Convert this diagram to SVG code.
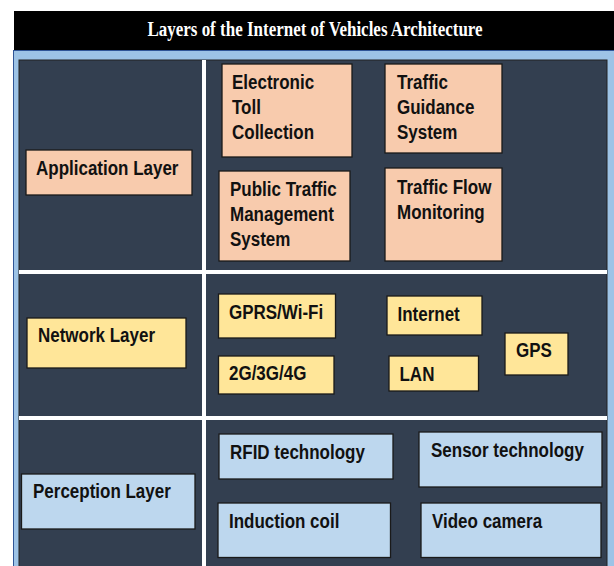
<svg xmlns="http://www.w3.org/2000/svg" width="614" height="566" viewBox="0 0 614 566">
<style>
.t{font-family:"Liberation Sans",Arial,sans-serif;font-weight:bold;font-size:17px;fill:#111}
.title{font-family:"Liberation Serif","Times New Roman",serif;font-weight:bold;font-size:17px;fill:#fff;text-anchor:middle}
.app{fill:#F8CBAD;stroke:#1a1a1a;stroke-width:1.3}
.net{fill:#FFE699;stroke:#1a1a1a;stroke-width:1.3}
.per{fill:#BDD7EE;stroke:#1a1a1a;stroke-width:1.3}
.div{fill:#fff}
</style>
<rect x="0" y="0" width="614" height="566" fill="#fff"/>
<g id="title">
<rect x="14" y="11" width="600" height="39" fill="#000"/>
<text class="title" transform="translate(315,36) scale(1,1.18)">Layers of the Internet of Vehicles Architecture</text>
</g>
<g id="frame">
<rect x="13.5" y="50.5" width="602" height="520" fill="#9DC3E6" stroke="#2F5597" stroke-width="1"/>
<rect x="19" y="60" width="588" height="510" fill="#333F50" stroke="#222" stroke-width="1"/>
</g>
<g id="dividers">
<rect class="div" x="202" y="60" width="4" height="506"/>
<rect class="div" x="19" y="270" width="588" height="4"/>
<rect class="div" x="19" y="416" width="588" height="4"/>
</g>
<g id="connectors"></g>
<g id="application-layer">
<rect class="app" x="26" y="150" width="166" height="45"/>
<text class="t" transform="translate(36,175) scale(1,1.15)">Application Layer</text>
</g>
<g id="electronic-toll">
<rect class="app" x="222" y="64" width="130" height="93"/>
<text class="t" transform="translate(232,89) scale(1,1.15)"><tspan x="0" y="0">Electronic</tspan><tspan x="0" y="21.7">Toll</tspan><tspan x="0" y="43.4">Collection</tspan></text>
</g>
<g id="traffic-guidance">
<rect class="app" x="385" y="64" width="117" height="89"/>
<text class="t" transform="translate(397,89) scale(1,1.15)"><tspan x="0" y="0">Traffic</tspan><tspan x="0" y="21.7">Guidance</tspan><tspan x="0" y="43.4">System</tspan></text>
</g>
<g id="public-traffic">
<rect class="app" x="219" y="171" width="131" height="90"/>
<text class="t" transform="translate(230,196) scale(1,1.15)"><tspan x="0" y="0">Public Traffic</tspan><tspan x="0" y="21.7">Management</tspan><tspan x="0" y="43.4">System</tspan></text>
</g>
<g id="traffic-flow">
<rect class="app" x="385" y="168" width="117" height="93"/>
<text class="t" transform="translate(397,194) scale(1,1.15)"><tspan x="0" y="0">Traffic Flow</tspan><tspan x="0" y="21.7">Monitoring</tspan></text>
</g>
<g id="network-layer">
<rect class="net" x="27" y="318" width="159" height="50"/>
<text class="t" transform="translate(38,342) scale(1,1.15)">Network Layer</text>
</g>
<g id="gprs">
<rect class="net" x="218.5" y="294" width="117" height="44"/>
<text class="t" transform="translate(229,319) scale(1,1.15)">GPRS/Wi-Fi</text>
</g>
<g id="internet">
<rect class="net" x="387" y="296" width="95" height="39"/>
<text class="t" transform="translate(397.5,321) scale(1,1.15)">Internet</text>
</g>
<g id="gps">
<rect class="net" x="505" y="333" width="63" height="42"/>
<text class="t" transform="translate(516,357) scale(1,1.15)">GPS</text>
</g>
<g id="g234">
<rect class="net" x="218.5" y="356" width="115.5" height="38"/>
<text class="t" transform="translate(229,380) scale(1,1.15)">2G/3G/4G</text>
</g>
<g id="lan">
<rect class="net" x="389" y="356" width="89.5" height="35"/>
<text class="t" transform="translate(399.5,381) scale(1,1.15)">LAN</text>
</g>
<g id="perception-layer">
<rect class="per" x="21.5" y="474" width="173.5" height="55"/>
<text class="t" transform="translate(33,498) scale(1,1.15)">Perception Layer</text>
</g>
<g id="rfid">
<rect class="per" x="219" y="434" width="174" height="45"/>
<text class="t" transform="translate(230,459) scale(1,1.15)">RFID technology</text>
</g>
<g id="sensor">
<rect class="per" x="419" y="432" width="183" height="55"/>
<text class="t" transform="translate(431,457) scale(1,1.15)">Sensor technology</text>
</g>
<g id="induction">
<rect class="per" x="218" y="503" width="172.5" height="54.5"/>
<text class="t" transform="translate(229,528) scale(1,1.15)">Induction coil</text>
</g>
<g id="video">
<rect class="per" x="421" y="503" width="180" height="54.5"/>
<text class="t" transform="translate(432,528) scale(1,1.15)">Video camera</text>
</g>
</svg>
